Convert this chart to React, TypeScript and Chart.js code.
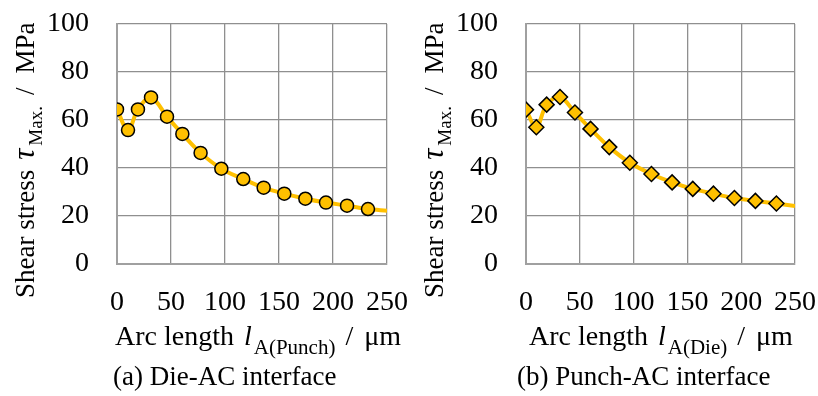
import React, { useEffect, useRef } from "react";
import { Chart, registerables } from "chart.js";

Chart.register(...registerables);

// ---- Data ----
const dieArcLength = [0, 10.2, 19.4, 31.5, 46.3, 60.5, 77.4, 96.6, 116.9, 135.8, 154.9, 174.4, 193.5, 213, 232.4, 250];
const dieShearStress = [64.4, 55.8, 64.4, 69.4, 61.4, 54.2, 46.3, 39.7, 35.4, 31.8, 29.3, 27.2, 25.6, 24.3, 22.9, 22.2];
const punchArcLength = [0, 9.6, 19.2, 31.6, 45.5, 60, 77.4, 96.5, 116.6, 135.8, 155, 174.2, 193.7, 213.2, 232.7, 250];
const punchShearStress = [64.3, 57.0, 66.4, 69.6, 63.1, 56.3, 48.7, 42.2, 37.5, 34.0, 31.3, 29.3, 27.5, 26.3, 25.2, 24.2];
const yTicks = [0, 20, 40, 60, 80, 100];
const xTicks = [0, 50, 100, 150, 200, 250];
const yTitleParts = ["Shear stress", "τ", "Max.", "/", "MPa"];
const xTitleA = ["Arc length", "l", "A(Punch)", "/", "μm"];
const xTitleB = ["Arc length", "l", "A(Die)", "/", "μm"];
const captionA = "(a) Die-AC interface";
const captionB = "(b) Punch-AC interface";

const SERIF = "'Liberation Serif', 'Times New Roman', serif";
const MAIN = `28px ${SERIF}`;
const YMAIN = `27px ${SERIF}`;
const ITAL = `italic 28px ${SERIF}`;
const YITAL = `italic 31px ${SERIF}`;
const SUB = `21px ${SERIF}`;
const YSUB = `19px ${SERIF}`;
const CAP = `27px ${SERIF}`;

function w(ctx: CanvasRenderingContext2D, font: string, text: string) {
  ctx.font = font;
  return ctx.measureText(text).width;
}

function put(ctx: CanvasRenderingContext2D, font: string, text: string, x: number, y: number) {
  ctx.font = font;
  ctx.fillText(text, x, y);
}

// draws "main italic_sub / unit" starting at (x0, y0) along the text direction
function drawTitle(ctx: CanvasRenderingContext2D, parts: string[], mainFont: string, italFont: string, subFont: string, x0: number, y0: number, gaps: number[], subDy: number) {
  ctx.textAlign = "left";
  ctx.textBaseline = "alphabetic";
  ctx.fillStyle = "#000";
  let x = x0;
  put(ctx, mainFont, parts[0], x, y0);
  x += w(ctx, mainFont, parts[0]) + gaps[0];
  put(ctx, italFont, parts[1], x, y0);
  x += w(ctx, italFont, parts[1]) + gaps[1];
  put(ctx, subFont, parts[2], x, y0 + subDy);
  x += w(ctx, subFont, parts[2]) + gaps[2];
  put(ctx, mainFont, parts[3], x, y0);
  x += w(ctx, mainFont, parts[3]) + gaps[3];
  put(ctx, mainFont, parts[4], x, y0);
}

function makeTextPlugin(xTitle: string[], caption: string, xTitleLeft: number, captionLeft: number) {
  return {
    id: "richText",
    afterDraw(chart: any) {
      const ctx: CanvasRenderingContext2D = chart.ctx;
      ctx.save();
      // y title (rotated)
      ctx.save();
      ctx.translate(34, 298);
      ctx.rotate(-Math.PI / 2);
      drawTitle(ctx, yTitleParts, YMAIN, YITAL, YSUB, 0, 0, [10, 3, 11, 14], 8);
      ctx.restore();
      // x title
      drawTitle(ctx, xTitle, MAIN, ITAL, SUB, xTitleLeft, 345, [10, 2, 10, 11], 9);
      // caption
      ctx.font = CAP;
      ctx.fillText(caption, captionLeft, 385);
      ctx.restore();
    },
  };
}

function buildConfig(xs: number[], ys: number[], style: string, xTitle: string[], caption: string, rightPad: number, xTitleLeft: number, captionLeft: number): any {
  const last = xs.length - 1;
  const data = xs.map((x, i) => ({ x, y: ys[i] }));
  return {
    type: "scatter",
    data: {
      datasets: [
        {
          data,
          showLine: true,
          borderColor: "#FFC000",
          borderWidth: 4,
          tension: 0.35,
          pointStyle: style,
          pointRadius: (c: any) => (c.dataIndex === last ? 0 : style === "circle" ? 6.5 : 7.5),
          pointHoverRadius: 0,
          pointBackgroundColor: "#FFC000",
          pointBorderColor: "#000",
          pointBorderWidth: 1.5,
        },
      ],
    },
    options: {
      animation: false,
      responsive: false,
      events: [],
      layout: { padding: { left: 0, right: rightPad, top: 24, bottom: 0 } },
      plugins: { legend: { display: false }, tooltip: { enabled: false } },
      scales: {
        x: {
          type: "linear",
          min: 0,
          max: 250,
          afterBuildTicks: (s: any) => {
            s.ticks = xTicks.map((v) => ({ value: v }));
          },
          afterFit: (s: any) => {
            s.height = 132;
            s.paddingLeft = 0;
            s.paddingRight = 0;
            s.paddingTop = 0;
            s.paddingBottom = 0;
          },
          ticks: { color: "#000", font: { family: SERIF, size: 28 }, padding: 22, maxRotation: 0, autoSkip: false },
          grid: { color: "#8f8f8f", lineWidth: 1.3, drawTicks: false },
          border: { color: "#a0a0a0", width: 2 },
        },
        y: {
          type: "linear",
          min: 0,
          max: 100,
          afterBuildTicks: (s: any) => {
            s.ticks = yTicks.map((v) => ({ value: v }));
          },
          afterFit: (s: any) => {
            s.width = 117;
            s.paddingLeft = 0;
            s.paddingRight = 0;
            s.paddingTop = 0;
            s.paddingBottom = 0;
          },
          ticks: { color: "#000", font: { family: SERIF, size: 28 }, padding: 28, autoSkip: false },
          grid: { color: "#8f8f8f", lineWidth: 1.3, drawTicks: false },
          border: { color: "#a0a0a0", width: 2 },
        },
      },
    },
    plugins: [makeTextPlugin(xTitle, caption, xTitleLeft, captionLeft)],
  };
}

export default function App() {
  const refA = useRef<HTMLCanvasElement | null>(null);
  const refB = useRef<HTMLCanvasElement | null>(null);

  useEffect(() => {
    const a = new Chart(refA.current as HTMLCanvasElement, buildConfig(dieArcLength, dieShearStress, "circle", xTitleA, captionA, 22, 115, 113));
    const b = new Chart(refB.current as HTMLCanvasElement, buildConfig(punchArcLength, punchShearStress, "rectRot", xTitleB, captionB, 23, 120, 108));
    return () => {
      a.destroy();
      b.destroy();
    };
  }, []);

  return (
    <div style={{ position: "absolute", left: 0, top: 0, width: 818, height: 396, background: "#fff" }}>
      <canvas ref={refA} width={409} height={396} style={{ position: "absolute", left: 0, top: 0, width: 409, height: 396 }} />
      <canvas ref={refB} width={409} height={396} style={{ position: "absolute", left: 409, top: 0, width: 409, height: 396 }} />
    </div>
  );
}
